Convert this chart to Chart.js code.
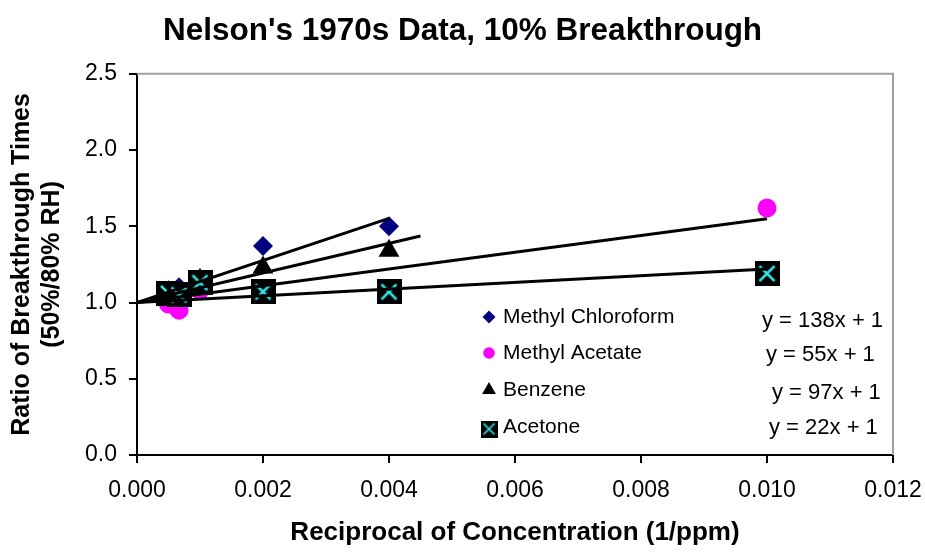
<!DOCTYPE html>
<html>
<head>
<meta charset="utf-8">
<script src="https://cdn.jsdelivr.net/npm/chart.js@4.4.0/dist/chart.umd.min.js"></script>
<style>
  html, body { margin: 0; padding: 0; background: #ffffff; }
  #wrap { width: 925px; height: 552px; }
</style>
</head>
<body>
<div id="wrap"><canvas id="chart" width="925" height="552"></canvas></div>
<script>
// Breakthrough-time ratios (50% / 80% RH) against reciprocal concentration
const seriesNames = ['Methyl Chloroform', 'Methyl Acetate', 'Benzene', 'Acetone'];

const chloroformX = [0.0005, 0.000667, 0.002, 0.004];
const chloroformY = [1.08, 1.10, 1.37, 1.50];

const acetateX = [0.0005, 0.000667, 0.001, 0.010];
const acetateY = [0.99, 0.95, 1.08, 1.62];

const benzeneX = [0.0005, 0.001, 0.002, 0.004];
const benzeneY = [1.06, 1.15, 1.23, 1.34];

const acetoneX = [0.0005, 0.000667, 0.001, 0.002, 0.004, 0.010];
const acetoneY = [1.06, 1.05, 1.13, 1.07, 1.07, 1.19];

// Linear fits with the intercept fixed at 1
const trendSlopes = [138, 55, 97, 22];
const trendIntercept = 1;
const trendEndX = [0.004, 0.010, 0.0045, 0.010];

const xTicks = [0.000, 0.002, 0.004, 0.006, 0.008, 0.010, 0.012];
const yTicks = [0.0, 0.5, 1.0, 1.5, 2.0, 2.5];

const FONT = "'Liberation Sans', Arial, Helvetica, sans-serif";
Chart.defaults.font.family = FONT;
Chart.defaults.color = '#000000';

const toPoints = (xs, ys) => xs.map((x, i) => ({ x: x, y: ys[i] }));

// Black square with a cyan cross, used for the acetone series
function squareCross(side) {
  const c = document.createElement('canvas');
  c.width = side; c.height = side;
  const g = c.getContext('2d');
  g.fillStyle = '#000000';
  g.fillRect(0, 0, side, side);
  const m = Math.round(side * 0.2);
  g.strokeStyle = '#33e6e6';
  g.lineWidth = Math.max(1.5, side * 0.1);
  g.beginPath();
  g.moveTo(m, m); g.lineTo(side - m, side - m);
  g.moveTo(side - m, m); g.lineTo(m, side - m);
  g.stroke();
  return c;
}
const acetoneMarker = squareCross(25);
const acetoneLegendMarker = squareCross(17);

const markerStyles = [
  { pointStyle: 'rectRot', radius: 10, color: '#000080' },
  { pointStyle: 'circle', radius: 9.5, color: '#ff00ff' },
  { pointStyle: 'triangle', radius: 12, color: '#000000' },
  { pointStyle: acetoneMarker, radius: 13, color: '#000000' }
];

const seriesData = [
  toPoints(chloroformX, chloroformY),
  toPoints(acetateX, acetateY),
  toPoints(benzeneX, benzeneY),
  toPoints(acetoneX, acetoneY)
];

const datasets = [];
// Trend lines sit above the markers
trendSlopes.forEach((s, i) => {
  datasets.push({
    label: seriesNames[i] + ' fit',
    data: [
      { x: 0, y: trendIntercept },
      { x: trendEndX[i], y: s * trendEndX[i] + trendIntercept }
    ],
    showLine: true,
    borderColor: '#000000',
    borderWidth: 3,
    pointRadius: 0,
    pointHoverRadius: 0,
    fill: false,
    order: 0
  });
});
// Later series are drawn over earlier ones
const seriesOrder = [4, 3, 2, 1];
seriesNames.forEach((name, i) => {
  const st = markerStyles[i];
  datasets.push({
    label: name,
    data: seriesData[i],
    showLine: false,
    pointStyle: st.pointStyle,
    pointRadius: st.radius,
    pointHoverRadius: st.radius,
    pointBackgroundColor: st.color,
    pointBorderColor: st.color,
    pointBorderWidth: 0,
    order: seriesOrder[i]
  });
});

// Gray top and right edges of the plot area
const plotFrame = {
  id: 'plotFrame',
  beforeDatasetsDraw(chart) {
    const { ctx, chartArea: a } = chart;
    ctx.save();
    ctx.strokeStyle = '#a0a0a0';
    ctx.lineWidth = 2;
    ctx.beginPath();
    ctx.moveTo(a.left, a.top);
    ctx.lineTo(a.right, a.top);
    ctx.lineTo(a.right, a.bottom);
    ctx.stroke();
    ctx.restore();
  }
};

// Series key and the fitted equations
const legendRowsY = [317, 353, 390, 427];
const legendMarkerX = 489;
const legendTextX = 503;
const eqLeftX = [762, 766, 772, 769];
const eqRowsY = [321, 355, 393, 428];

const keyAndEquations = {
  id: 'keyAndEquations',
  afterDraw(chart) {
    const ctx = chart.ctx;
    ctx.save();
    legendRowsY.forEach((y, i) => {
      const x = legendMarkerX;
      ctx.fillStyle = markerStyles[i].color;
      ctx.beginPath();
      if (i === 0) {
        const r = 6.5;
        ctx.moveTo(x, y - r); ctx.lineTo(x + r, y); ctx.lineTo(x, y + r); ctx.lineTo(x - r, y);
        ctx.closePath(); ctx.fill();
      } else if (i === 1) {
        ctx.arc(x, y, 5.8, 0, Math.PI * 2); ctx.fill();
      } else if (i === 2) {
        const r = 8;
        ctx.moveTo(x, y - r);
        ctx.lineTo(x + r * Math.sin(2 * Math.PI / 3), y - r * Math.cos(2 * Math.PI / 3));
        ctx.lineTo(x + r * Math.sin(4 * Math.PI / 3), y - r * Math.cos(4 * Math.PI / 3));
        ctx.closePath(); ctx.fill();
      } else {
        ctx.drawImage(acetoneLegendMarker, x - 8.5, y - 6.5);
      }
      ctx.fillStyle = '#000000';
      ctx.font = '21px ' + FONT;
      ctx.textAlign = 'left';
      ctx.textBaseline = 'middle';
      ctx.fillText(seriesNames[i], legendTextX, y);
    });
    ctx.font = '22px ' + FONT;
    trendSlopes.forEach((s, i) => {
      ctx.fillText('y = ' + s + 'x + ' + trendIntercept, eqLeftX[i], eqRowsY[i]);
    });
    ctx.restore();
  }
};

new Chart(document.getElementById('chart'), {
  type: 'scatter',
  data: { datasets: datasets },
  options: {
    responsive: false,
    animation: false,
    devicePixelRatio: 1,
    layout: { padding: 0 },
    plugins: {
      legend: { display: false },
      tooltip: { enabled: false },
      title: {
        display: true,
        text: "Nelson's 1970s Data, 10% Breakthrough",
        color: '#000000',
        font: { family: FONT, size: 31.5, weight: 'bold' },
        padding: { top: 12, bottom: 24 }
      }
    },
    scales: {
      x: {
        type: 'linear',
        min: 0,
        max: 0.012,
        afterBuildTicks(scale) { scale.ticks = xTicks.map(v => ({ value: v })); },
        afterFit(scale) {
          scale.height = 97;
          scale.paddingLeft = 0;
          scale.paddingRight = 32;
        },
        ticks: {
          color: '#000000',
          font: { size: 23 },
          padding: 14,
          maxRotation: 0,
          callback: v => Number(v).toFixed(3)
        },
        grid: { drawOnChartArea: false, drawTicks: true, tickLength: 8, color: '#000000', lineWidth: 2 },
        border: { display: true, color: '#000000', width: 2 },
        title: {
          display: true,
          text: 'Reciprocal of Concentration (1/ppm)',
          color: '#000000',
          font: { size: 26, weight: 'bold' },
          padding: { top: 0, bottom: 4 }
        }
      },
      y: {
        type: 'linear',
        min: 0,
        max: 2.5,
        afterBuildTicks(scale) { scale.ticks = yTicks.map(v => ({ value: v })); },
        afterFit(scale) { scale.width = 137; },
        ticks: {
          color: '#000000',
          font: { size: 23 },
          padding: 12,
          callback: v => Number(v).toFixed(1)
        },
        grid: { drawOnChartArea: false, drawTicks: true, tickLength: 8, color: '#000000', lineWidth: 2 },
        border: { display: true, color: '#000000', width: 2 },
        title: {
          display: true,
          text: ['Ratio of Breakthrough Times', '(50%/80% RH)'],
          color: '#000000',
          font: { size: 25, weight: 'bold' },
          padding: { top: 7, bottom: 0 }
        }
      }
    }
  },
  plugins: [plotFrame, keyAndEquations]
});
</script>
</body>
</html>
